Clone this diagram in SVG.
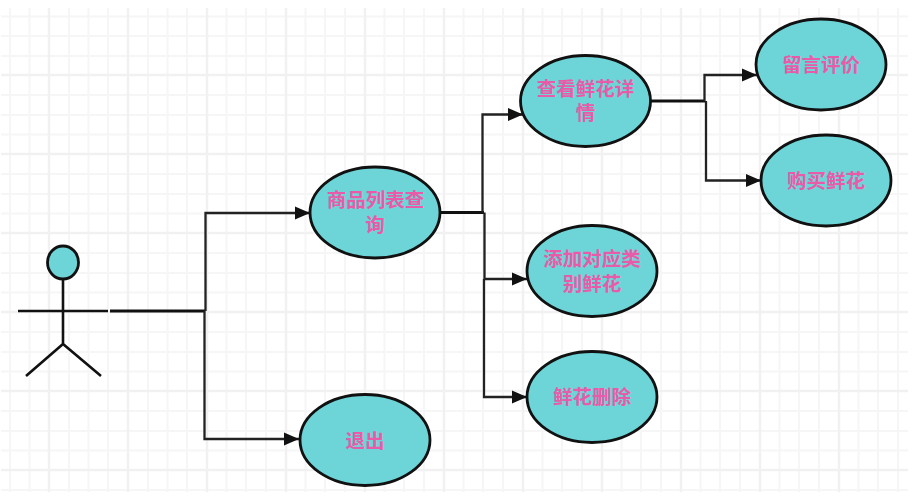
<svg xmlns="http://www.w3.org/2000/svg" width="923" height="496" viewBox="0 0 923 496">
<style>
.minor{stroke:#f6f6f6;stroke-width:2;fill:none}
.major{stroke:#f1f1f1;stroke-width:2.5;fill:none}
.n{fill:#6dd5d8;stroke:#111;stroke-width:2.8}
.t{font-family:"Liberation Sans","Noto Sans CJK SC",sans-serif;font-size:19.500px;font-weight:700;fill:#e85ba8;text-anchor:middle}
.a{stroke:#111;stroke-width:2.600;fill:none}
.c{stroke:#222;stroke-width:2.300;fill:none;marker-end:url(#arr)}
.c0{stroke:#111;stroke-width:2.800;fill:none}
</style>
<defs>
<marker id="arr" markerUnits="userSpaceOnUse" markerWidth="16" markerHeight="14" refX="15" refY="7" orient="auto"><path d="M0 0.500L15 7L0 13.500Z" fill="#111"/></marker>
</defs>
<rect width="923" height="496" fill="#fff"/>
<g id="grid">
<path class="minor" d="M10 8V492M29.500 8V492M69 8V492M88.500 8V492M108 8V492M148 8V492M167.500 8V492M187 8V492M226.500 8V492M246 8V492M266 8V492M305.500 8V492M325 8V492M345 8V492M384.500 8V492M404 8V492M424 8V492M463.500 8V492M483 8V492M503 8V492M542.500 8V492M562 8V492M582 8V492M621.500 8V492M641 8V492M661 8V492M700.500 8V492M720 8V492M740 8V492M779.500 8V492M799 8V492M819 8V492M858.500 8V492M878 8V492M898 8V492"/>
<path class="minor" d="M1 16.500H908M1 36H908M1 56H908M1 95H908M1 115H908M1 134.500H908M1 174H908M1 194H908M1 213.500H908M1 253H908M1 273H908M1 292.500H908M1 332H908M1 352H908M1 371.500H908M1 411H908M1 431H908M1 450.500H908M1 490H908"/>
<path class="major" d="M49 8V492M128 8V492M207 8V492M286 8V492M365 8V492M444 8V492M523 8V492M602 8V492M681 8V492M760 8V492M839 8V492"/>
<path class="major" d="M1 75H908M1 154H908M1 233H908M1 312H908M1 391H908M1 470H908"/>
</g>
<g id="connectors">
<path class="c0" d="M110 311H205"/>
<path class="c" d="M205.500 311V213H310"/>
<path class="c" d="M204.500 311V439H299"/>
<path class="c0" d="M441 212.500H484"/>
<path class="c" d="M482.500 212.500V114.500H523"/>
<path class="c" d="M484.500 212.500V279H527"/>
<path class="c" d="M484 279V397H527"/>
<path class="c0" d="M651 101H705"/>
<path class="c" d="M704.500 101V75H757"/>
<path class="c" d="M706 101V180.500H761"/>
</g>
<g id="actor">
<path class="a" d="M18 311H108M63 279V344M26 376L63 344L101 376"/>
<ellipse class="n" cx="63" cy="262.500" rx="15.500" ry="16.500"/>
</g>
<g id="node-list"><ellipse class="n" cx="375" cy="212.500" rx="65" ry="45.500"/><text class="t" x="375.500" y="207">商品列表查</text><text class="t" x="375" y="232">询</text></g>
<g id="node-exit"><ellipse class="n" cx="365" cy="440" rx="65" ry="45.500"/><text class="t" x="365" y="448">退出</text></g>
<g id="node-detail"><ellipse class="n" cx="585.500" cy="101" rx="65" ry="45.500"/><text class="t" x="585.500" y="96">查看鲜花详</text><text class="t" x="585.500" y="120">情</text></g>
<g id="node-comment"><ellipse class="n" cx="821" cy="64.500" rx="65" ry="45.500"/><text class="t" x="821" y="72">留言评价</text></g>
<g id="node-buy"><ellipse class="n" cx="826" cy="180.500" rx="65" ry="45.500"/><text class="t" x="826" y="188">购买鲜花</text></g>
<g id="node-add"><ellipse class="n" cx="592" cy="271" rx="65" ry="45.500"/><text class="t" x="592" y="266">添加对应类</text><text class="t" x="592" y="291">别鲜花</text></g>
<g id="node-delete"><ellipse class="n" cx="592" cy="397" rx="65" ry="45.500"/><text class="t" x="592" y="404">鲜花删除</text></g>
</svg>
